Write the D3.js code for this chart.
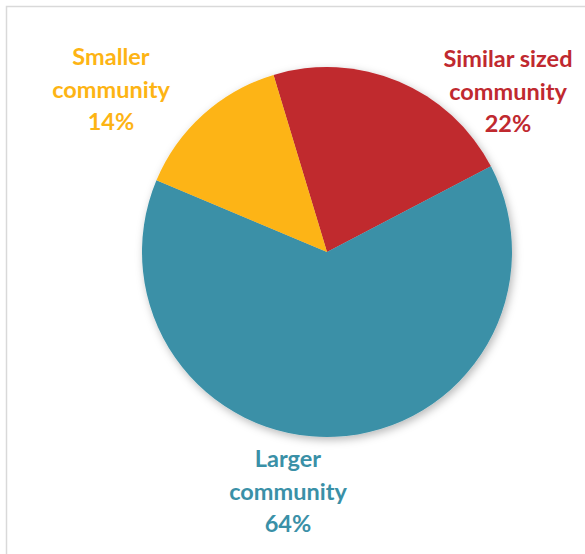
<!DOCTYPE html>
<html>
<head>
<meta charset="utf-8">
<script src="https://cdn.jsdelivr.net/npm/d3@7"></script>
<style>
  html, body { margin: 0; padding: 0; background: #fff; }
  svg { display: block; }
</style>
</head>
<body>
<svg id="chart" width="585" height="554"></svg>
<script>
// Community size comparison (share of responses)
const categories = ["Similar sized community", "Larger community", "Smaller community"];
const labelLines = [["Similar sized", "community"], ["Larger", "community"], ["Smaller", "community"]];
const values = [22, 64, 14];
const colors = ["#C0292F", "#3A90A7", "#FDB414"];
// label anchor positions (centre x, first baseline y)
const labelPos = [[508, 67], [288, 467], [111, 65]];

const svg = d3.select("#chart");
const W = 585, H = 554;

// chart frame
svg.append("rect")
  .attr("x", 6.5).attr("y", 6.5)
  .attr("width", W + 10).attr("height", H + 10)
  .attr("fill", "#fff")
  .attr("stroke", "#d9d9d9").attr("stroke-width", 1.5);

const defs = svg.append("defs");
const f = defs.append("filter").attr("id", "shadow")
  .attr("x", "-20%").attr("y", "-20%").attr("width", "140%").attr("height", "140%");
f.append("feDropShadow")
  .attr("dx", 2).attr("dy", 3).attr("stdDeviation", 4)
  .attr("flood-color", "#000").attr("flood-opacity", 0.28);

const cx = 327, cy = 252, r = 185;
const startAngle = -16.8 * Math.PI / 180;

const pie = d3.pie()
  .sort(null)
  .value(d => d)
  .startAngle(startAngle)
  .endAngle(startAngle + 2 * Math.PI);

const arc = d3.arc().innerRadius(0).outerRadius(r);

const g = svg.append("g").attr("transform", `translate(${cx},${cy})`);
g.append("g").attr("filter", "url(#shadow)")
  .selectAll("path")
  .data(pie(values))
  .join("path")
  .attr("d", arc)
  .attr("fill", (d, i) => colors[i]);

// data labels
const lineH = 32.5;
categories.forEach((c, i) => {
  const t = svg.append("text")
    .attr("text-anchor", "middle")
    .attr("font-family", "Lato, 'Open Sans', sans-serif")
    .attr("font-weight", "bold")
    .attr("font-size", 23.5)
    .attr("fill", colors[i]);
  const lines = labelLines[i].concat([values[i] + "%"]);
  lines.forEach((s, k) => {
    t.append("tspan")
      .attr("x", labelPos[i][0])
      .attr("y", labelPos[i][1] + k * lineH)
      .text(s);
  });
});
</script>
</body>
</html>
